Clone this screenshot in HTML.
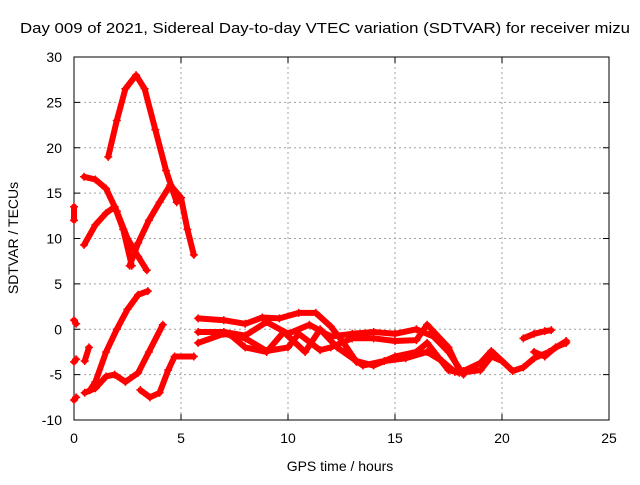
<!DOCTYPE html>
<html><head><meta charset="utf-8"><style>
body{margin:0;background:#fff;}
svg text{font-family:"Liberation Sans",sans-serif;font-size:14px;fill:#000;}
</style></head><body>
<svg id="chart" width="640" height="480" xmlns="http://www.w3.org/2000/svg">
<text x="20" y="33" textLength="610" lengthAdjust="spacingAndGlyphs" style="font-size:15px">Day 009 of 2021, Sidereal Day-to-day VTEC variation (SDTVAR) for receiver mizu</text>
<g id="grid"></g>
<g id="axes"></g>
<g id="series"></g>
<text x="340" y="471" text-anchor="middle">GPS time / hours</text>
<text transform="translate(18,238) rotate(-90)" text-anchor="middle">SDTVAR / TECUs</text>
</svg>
<script>
const xTicks=[0,5,10,15,20,25];
const yTicks=[-10,-5,0,5,10,15,20,25,30];
const trackArc=[[1.6,19],[2.0,23],[2.4,26.5],[2.9,28],[3.3,26.5],[3.8,22],[4.3,17.5],[4.8,14]];
const trackB=[[0.47,16.8],[1.0,16.5],[1.5,15.5],[2.0,13],[2.5,10],[3.0,8],[3.4,6.5]];
const trackC=[[0.47,9.3],[1.0,11.5],[1.5,12.8],[1.9,13.5],[2.3,11],[2.7,7]];
const trackD=[[2.6,7],[3.0,9.5],[3.5,12],[4.0,14],[4.5,15.9],[5.0,14.5],[5.3,11],[5.6,8.2]];
const trackE=[[0.75,-6.7],[1.0,-5.8],[1.5,-2.5],[2.0,0],[2.5,2.2],[3.0,3.8],[3.45,4.2]];
const trackF=[[0.5,-7],[1.0,-6.5],[1.5,-5.2],[1.9,-5.0],[2.4,-5.8],[3.0,-4.8],[3.5,-2.5],[4.15,0.5]];
const trackG=[[3.1,-6.7],[3.55,-7.5],[4.0,-7],[4.4,-4.5],[4.7,-3],[5.6,-3]];
const trackLeft1=[[0,1],[0.1,0.6]];
const trackLeft2=[[0,-3.6],[0.1,-3.3]];
const trackLeft3=[[0.5,-3.5],[0.7,-2]];
const trackLeft4=[[0,13.5],[0,12]];
const trackLeft5=[[0,-7.8],[0.1,-7.5]];
const trackT1=[[5.8,1.2],[7,1],[8,0.6],[8.8,1.3],[9.6,1.2],[10.5,1.8],[11.3,1.8],[12,0.3],[12.6,-1.5],[13.2,-3.6]];
const trackT2=[[5.8,-0.3],[7,-0.3],[8,-0.7],[9,0.8],[10,-0.5],[11,0.5],[12,-0.8],[13,-0.5],[14,-0.3],[15,-0.5],[16,0],[16.8,-0.8],[17.5,-2.5],[18.2,-5]];
const trackT3=[[5.8,-1.5],[7,-0.5],[8,-1],[9,-2.4],[10,-2],[10.5,-0.5],[11.5,-2.3],[12,-2],[13,-1],[14,-1],[15,-1.3],[16,-1.2],[16.5,0.5],[17.5,-2],[18,-4.5]];
const trackT4=[[7.3,-0.6],[8,-2],[9,-2.5],[9.8,-0.3],[10.8,-2.5],[11.5,0],[12.3,-2],[13.5,-4],[14.5,-3.5],[15.5,-3.2],[16.5,-2.5],[17.2,-3.5],[17.8,-4.7]];
const trackT5=[[13.2,-3.5],[14,-4],[15,-3],[16,-2.5],[16.5,-1.5],[17.5,-4.5],[18,-4.8],[19,-4.5],[19.5,-3],[20,-3.5]];
const trackT6=[[18.2,-4.6],[19,-3.7],[19.5,-2.4],[20.5,-4.6],[21,-4.2],[21.5,-3.2],[22.2,-2.5],[23,-1.3]];
const trackT7=[[21,-1],[21.5,-0.5],[22,-0.2],[22.3,-0.1]];
const trackT8=[[21.5,-2.5],[22,-3],[22.5,-2],[23,-1.5]];
const tracks=[trackArc,trackB,trackC,trackD,trackE,trackF,trackG,trackLeft1,trackLeft2,trackLeft3,trackLeft4,trackLeft5,trackT1,trackT2,trackT3,trackT4,trackT5,trackT6,trackT7,trackT8];

const L=74,R=609,T=57,B=420;
const sx=v=>L+(v-0)/25*(R-L);
const sy=v=>B-(v+10)/40*(B-T);
const NS="http://www.w3.org/2000/svg";
function mk(tag,attrs,parent){const e=document.createElementNS(NS,tag);for(const k in attrs)e.setAttribute(k,attrs[k]);parent.appendChild(e);return e;}
const grid=document.getElementById('grid'),axes=document.getElementById('axes'),series=document.getElementById('series');
xTicks.forEach(t=>{
  const x=sx(t);
  if(t>0&&t<25){const g=mk('line',{x1:x,x2:x,y1:T,y2:B,stroke:'#a0a0a0','stroke-dasharray':'2,3'},grid);
  
  }
  const tl=mk('text',{x:x,y:B+23,'text-anchor':'middle'},axes);tl.textContent=t;
  
  
  mk('line',{x1:x,x2:x,y1:B,y2:B-6,stroke:'#000'},axes);
  mk('line',{x1:x,x2:x,y1:T,y2:T+6,stroke:'#000'},axes);
});
yTicks.forEach(t=>{
  const y=sy(t);
  if(t>-10&&t<30){const g=mk('line',{x1:L,x2:R,y1:y,y2:y,stroke:'#a0a0a0','stroke-dasharray':'2,3'},grid);
  
  }
  const tl=mk('text',{x:L-12,y:y+5,'text-anchor':'end'},axes);tl.textContent=t;
  
  
  mk('line',{x1:L,x2:L+6,y1:y,y2:y,stroke:'#000'},axes);
  mk('line',{x1:R,x2:R-6,y1:y,y2:y,stroke:'#000'},axes);
});
const fr=mk('rect',{x:L,y:T,width:R-L,height:B-T,fill:'none',stroke:'#000'},axes);


tracks.forEach(tr=>{
  const d=tr.map((p,i)=>(i?'L':'M')+sx(p[0]).toFixed(1)+','+sy(p[1]).toFixed(1)).join(' ');
  const p=mk('path',{d:d,fill:'none',stroke:'#ff0000','stroke-width':6,'stroke-linejoin':'round','stroke-linecap':'round'},series);
  
  
  tr.forEach(pt=>{
    const x=sx(pt[0]),y=sy(pt[1]);
    const m=mk('path',{d:`M${x-4},${y}H${x+4}M${x},${y-4}V${y+4}`,stroke:'#ff0000','stroke-width':1.5},series);
    
    
  });
});
</script>
</body></html>
